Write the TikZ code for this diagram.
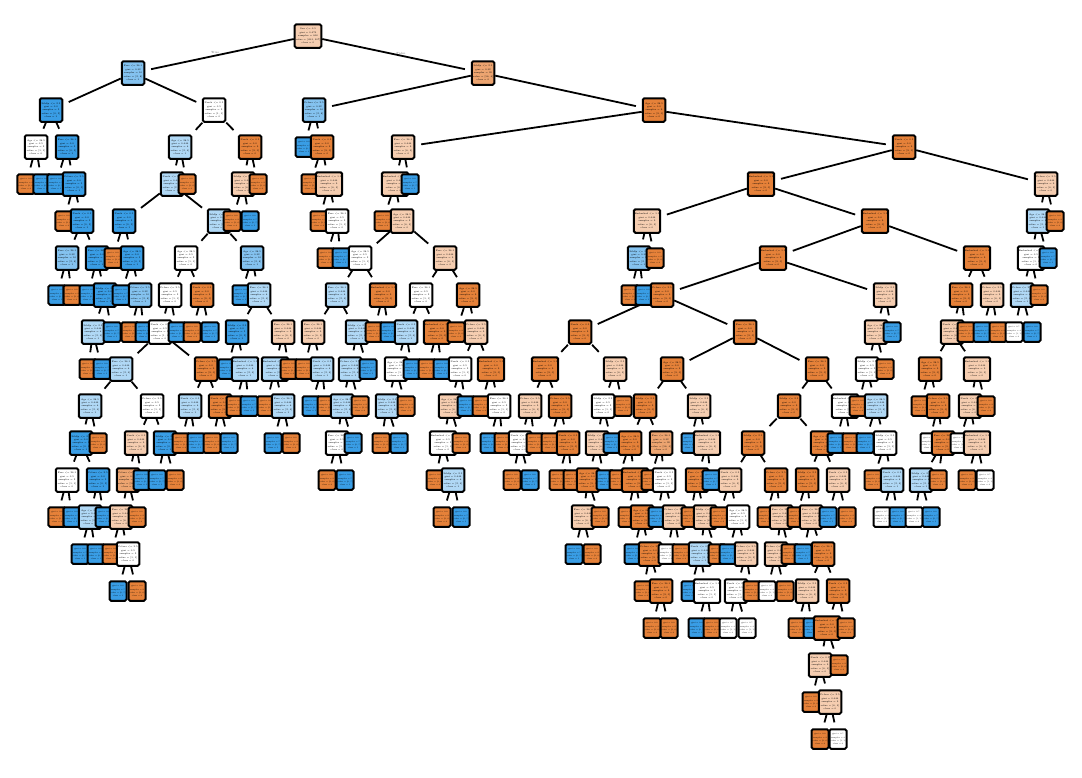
\documentclass[tikz,border=0pt]{standalone}
\usepackage{tikz}
\usetikzlibrary{backgrounds}
\usepackage{xcolor}
\definecolor{TreeOrange}{HTML}{e58139}
\definecolor{TreeBlue}{HTML}{399de5}
\colorlet{orA}{TreeOrange}
\colorlet{orB}{TreeOrange!72}
\colorlet{orC}{TreeOrange!40}
\colorlet{wh}{white}
\colorlet{blC}{TreeBlue!40}
\colorlet{blB}{TreeBlue!62}
\colorlet{blA}{TreeBlue}

\newcommand{\infoorA}{gini = 0.0\\samples = 9\\value = [9, 0]\\class = 0}
\newcommand{\infoorB}{gini = 0.32\\samples = 20\\value = [16, 4]\\class = 0}
\newcommand{\infoorC}{gini = 0.444\\samples = 9\\value = [6, 3]\\class = 0}
\newcommand{\infowh}{gini = 0.5\\samples = 2\\value = [1, 1]\\class = 0}
\newcommand{\infoblC}{gini = 0.444\\samples = 6\\value = [2, 4]\\class = 1}
\newcommand{\infoblB}{gini = 0.32\\samples = 10\\value = [2, 8]\\class = 1}
\newcommand{\infoblA}{gini = 0.0\\samples = 5\\value = [0, 5]\\class = 1}
\newcommand{\splitlabel}[2]{\pgfmathtruncatemacro\featno{mod(#2,6)}%
  \ifcase\featno Age <= 28.5\or Fare <= 26.1\or Pclass <= 2.5\or SibSp <= 2.5\or Parch <= 0.5\else Embarked <= 1.5\fi
  \\\csname info#1\endcsname}
\newcommand{\leaflabel}[2]{\csname info#1\endcsname}

\tikzset{
  treebox/.style={draw, line width=2pt, rounded corners=1.5pt, align=center,
    inner sep=0.8pt, font=\fontsize{2.3}{3.4}\selectfont},
  split/.style={treebox, minimum width=22.5pt, minimum height=23.5pt},
  leaf/.style={treebox, minimum width=14.5pt, minimum height=19.5pt,
    font=\fontsize{1.9}{3.2}\selectfont},
  link/.style={line width=1.8pt, shorten >=6pt},
  edgelabel/.style={font=\fontsize{3}{3.5}\selectfont, text=black!60}
}

\begin{document}
\begin{tikzpicture}[x=1pt,y=-1pt]
   \useasboundingbox (0,0) rectangle (1082,777);
   \node[split, fill=orC] (n0-308) at (308,36)
     {Sex <= 0.5\\gini = 0.473\\samples = 800\\value = [493, 307]\\class = 0};
   \foreach \lvl/\x/\tint/\kind in {
     1/133/blB/split, 1/483/orB/split,
     2/51/blA/split, 2/214/wh/split, 2/314/blB/split, 2/654/orA/split,
     3/36/wh/split, 3/67/blA/split, 3/180/blC/split, 3/250/orA/split, 3/304/blA/leaf,
     3/322/orA/split, 3/403/orC/split, 3/904/orA/split,
     4/26/orA/leaf, 4/42/blA/leaf, 4/56/blA/leaf, 4/74/blA/split, 4/172/blC/split,
     4/187/orA/leaf, 4/243/orC/split, 4/258/orA/leaf, 4/310/orA/leaf, 4/329/orC/split,
     4/395/orC/split, 4/410/blA/leaf, 4/761/orA/split, 4/1046/orC/split,
     5/64/orA/leaf, 5/82/blA/split, 5/124/blA/split, 5/219/blC/split, 5/232/orA/leaf,
     5/250/blA/leaf, 5/319/orA/leaf, 5/337/wh/split, 5/383/orA/leaf, 5/402/orC/split,
     5/647/orC/split, 5/875/orA/split, 5/1038/blC/split, 5/1055/orA/leaf,
     6/67/blB/split, 6/97/blA/split, 6/113/orA/leaf, 6/132/blA/split, 6/186/wh/split,
     6/252/blB/split, 6/326/orA/leaf, 6/341/blA/leaf, 6/360/wh/split, 6/445/orC/split,
     6/639/blB/split, 6/655/orA/leaf, 6/773/orA/split, 6/977/orA/split, 6/1031/wh/split,
     6/1048/blA/leaf,
     7/57/blA/leaf, 7/72/orA/leaf, 7/88/blA/leaf, 7/105/blA/split, 7/121/blA/leaf,
     7/140/blB/split, 7/170/wh/split, 7/202/orA/split, 7/241/blA/leaf, 7/259/blC/split,
     7/337/blC/split, 7/383/orA/split, 7/421/wh/split, 7/468/orA/split, 7/630/orA/leaf,
     7/644/blA/leaf, 7/662/orA/split, 7/885/orC/split, 7/961/orA/split, 7/992/orC/split,
     7/1022/blC/split, 7/1039/orA/leaf,
     8/93/blC/split, 8/112/blA/leaf, 8/130/orA/leaf, 8/144/blA/leaf, 8/160/wh/split,
     8/177/blA/leaf, 8/192/orA/leaf, 8/210/blA/leaf, 8/237/blA/split, 8/283/orC/split,
     8/313/orC/split, 8/357/blC/split, 8/374/orA/leaf, 8/389/blA/leaf, 8/406/blC/split,
     8/437/orA/split, 8/456/orA/leaf, 8/476/orC/split, 8/580/orA/split, 8/745/orA/split,
     8/876/orC/split, 8/892/blA/leaf, 8/952/orC/split, 8/966/orA/leaf, 8/982/blA/leaf,
     8/998/orA/leaf, 8/1014/wh/leaf, 8/1032/blA/leaf,
     9/88/orA/leaf, 9/102/blA/leaf, 9/121/blC/split, 9/206/orA/split, 9/227/blA/leaf,
     9/245/blC/split, 9/275/blC/split, 9/289/orA/leaf, 9/304/orA/leaf, 9/322/blC/split,
     9/350/blC/split, 9/368/blA/leaf, 9/396/wh/split, 9/412/blA/leaf, 9/427/orA/leaf,
     9/442/blA/leaf, 9/460/wh/split, 9/491/orA/split, 9/545/orA/split, 9/615/orC/split,
     9/672/orA/split, 9/817/orA/split, 9/867/wh/split, 9/885/orA/leaf, 9/930/orA/split,
     9/977/orC/split,
     10/90/blC/split, 10/152/wh/split, 10/190/blC/split, 10/220/orA/split, 10/235/orA/leaf,
     10/249/blA/leaf, 10/266/orA/leaf, 10/283/blC/split, 10/311/blA/leaf, 10/326/orA/leaf,
     10/342/blC/split, 10/360/orA/leaf, 10/387/blC/split, 10/406/orA/leaf, 10/450/orC/split,
     10/466/blA/leaf, 10/481/orA/leaf, 10/499/wh/split, 10/530/orC/split, 10/560/orA/split,
     10/603/wh/split, 10/623/orA/leaf, 10/645/orA/split, 10/699/orC/split, 10/789/orA/split,
     10/845/wh/split, 10/858/orA/leaf, 10/876/blC/split, 10/920/orA/leaf, 10/938/orA/split,
     10/970/orC/split, 10/986/orA/leaf,
     11/81/blA/split, 11/98/orA/leaf, 11/136/orC/split, 11/165/blA/split, 11/181/orA/leaf,
     11/196/blA/leaf, 11/212/orA/leaf, 11/229/blA/leaf, 11/273/blA/leaf, 11/291/orA/leaf,
     11/337/wh/split, 11/353/blA/leaf, 11/381/orA/leaf, 11/399/blA/leaf, 11/443/wh/split,
     11/461/orA/leaf, 11/489/blA/leaf, 11/503/orA/leaf, 11/520/wh/split, 11/535/orA/leaf,
     11/550/orA/leaf, 11/568/orA/split, 11/597/orC/split, 11/612/blA/leaf, 11/630/orA/split,
     11/661/orB/split, 11/690/blA/leaf, 11/707/orC/split, 11/753/orA/split, 11/822/orA/split,
     11/836/blA/leaf, 11/851/orA/leaf, 11/865/blA/leaf, 11/885/wh/split, 11/929/wh/leaf,
     11/943/orA/split, 11/959/wh/leaf, 11/977/orC/split,
     12/67/wh/split, 12/98/blA/split, 12/128/orB/split, 12/142/blA/leaf, 12/157/blA/leaf,
     12/175/orA/leaf, 12/327/orA/leaf, 12/345/blA/leaf, 12/435/orA/leaf, 12/453/blC/split,
     12/512/orA/leaf, 12/530/blA/leaf, 12/558/orA/leaf, 12/572/orA/leaf, 12/588/orA/split,
     12/605/blA/leaf, 12/618/orA/leaf, 12/635/orA/split, 12/650/orA/leaf, 12/664/wh/split,
     12/697/orA/split, 12/711/blA/leaf, 12/730/orC/split, 12/776/orA/split, 12/807/orA/split,
     12/838/orC/split, 12/873/orA/leaf, 12/892/blC/split, 12/921/blC/split, 12/938/orA/leaf,
     12/967/orA/leaf, 12/985/wh/leaf,
     13/57/orA/leaf, 13/72/blA/leaf, 13/90/blC/split, 13/104/blA/leaf, 13/121/orC/split,
     13/137/orA/leaf, 13/442/orA/leaf, 13/461/blA/leaf, 13/583/orC/split, 13/600/orA/leaf,
     13/627/orA/leaf, 13/642/orA/split, 13/657/blA/leaf, 13/674/orC/split, 13/690/orA/leaf,
     13/705/orC/split, 13/719/orA/leaf, 13/738/wh/split, 13/766/orA/leaf, 13/781/orC/split,
     13/796/orA/leaf, 13/811/orC/split, 13/828/blA/leaf, 13/847/orA/leaf, 13/882/wh/leaf,
     13/898/blA/leaf, 13/914/wh/leaf, 13/931/blA/leaf,
     14/80/blA/leaf, 14/96/blA/leaf, 14/111/orA/leaf, 14/128/wh/split, 14/574/blA/leaf,
     14/592/orA/leaf, 14/633/blA/leaf, 14/650/orA/split, 14/667/wh/leaf, 14/681/orA/leaf,
     14/700/blC/split, 14/717/orA/leaf, 14/728/blA/leaf, 14/746/orC/split, 14/776/orC/split,
     14/790/orA/leaf, 14/803/blA/leaf, 14/823/orA/split,
     15/118/blA/leaf, 15/137/orA/leaf, 15/643/orA/leaf, 15/661/orA/split, 15/690/blA/leaf,
     15/707/wh/split, 15/736/wh/split, 15/752/orA/leaf, 15/767/wh/leaf, 15/785/orA/leaf,
     15/807/orC/split, 15/838/orA/split,
     16/652/orA/leaf, 16/669/orA/leaf, 16/697/blA/leaf, 16/712/orA/leaf, 16/728/wh/leaf,
     16/747/wh/leaf, 16/797/orA/leaf, 16/812/blA/leaf, 16/827/orA/split, 16/846/orA/leaf,
     17/820/orC/split, 17/839/orA/leaf,
     18/811/orA/leaf, 18/830/orC/split,
     19/820/orA/leaf, 19/838/wh/leaf} {
    \node[\kind, fill=\tint] (n\lvl-\x) at (\x,{36+37*\lvl})
      {\csname\kind label\endcsname{\tint}{\x}};
   }
   \node[edgelabel] (lblTrue) at (215,53) {True};
   \node[edgelabel] (lblFalse) at (401,53) {False};

   % parent / left child / right child
   \begin{scope}[on background layer]
   \foreach \p/\a/\b in {
     0-308/1-133/1-483, 1-133/2-51/2-214, 1-483/2-314/2-654,
     2-51/3-36/3-67, 2-214/3-180/3-250, 2-314/3-304/3-322, 2-654/3-403/3-904,
     3-36/4-26/4-42, 3-67/4-56/4-74, 3-180/4-172/4-187, 3-250/4-243/4-258,
     3-322/4-310/4-329, 3-403/4-395/4-410, 3-904/4-761/4-1046,
     4-74/5-64/5-82, 4-172/5-124/5-219, 4-243/5-232/5-250, 4-329/5-319/5-337,
     4-395/5-383/5-402, 4-761/5-647/5-875, 4-1046/5-1038/5-1055,
     5-82/6-67/6-97, 5-124/6-113/6-132, 5-219/6-186/6-252, 5-337/6-326/6-341,
     5-402/6-360/6-445, 5-647/6-639/6-655, 5-875/6-773/6-977, 5-1038/6-1031/6-1048,
     6-67/7-57/7-72, 6-97/7-88/7-105, 6-132/7-121/7-140, 6-186/7-170/7-202,
     6-252/7-241/7-259, 6-360/7-337/7-383, 6-445/7-421/7-468, 6-639/7-630/7-644,
     6-773/7-662/7-885, 6-977/7-961/7-992, 6-1031/7-1022/7-1039,
     7-105/8-93/8-112, 7-140/8-130/8-144, 7-170/8-160/8-177, 7-202/8-192/8-210,
     7-259/8-237/8-283, 7-337/8-313/8-357, 7-383/8-374/8-389, 7-421/8-406/8-437,
     7-468/8-456/8-476, 7-662/8-580/8-745, 7-885/8-876/8-892, 7-961/8-952/8-966,
     7-992/8-982/8-998, 7-1022/8-1014/8-1032,
     8-93/9-88/9-102, 8-160/9-121/9-206, 8-237/9-227/9-245, 8-283/9-275/9-289,
     8-313/9-304/9-322, 8-357/9-350/9-368, 8-406/9-396/9-412, 8-437/9-427/9-442,
     8-476/9-460/9-491, 8-580/9-545/9-615, 8-745/9-672/9-817, 8-876/9-867/9-885,
     8-952/9-930/9-977,
     9-121/10-90/10-152, 9-206/10-190/10-220, 9-245/10-235/10-249, 9-275/10-266/10-283,
     9-322/10-311/10-326, 9-350/10-342/10-360, 9-396/10-387/10-406, 9-460/10-450/10-466,
     9-491/10-481/10-499, 9-545/10-530/10-560, 9-615/10-603/10-623, 9-672/10-645/10-699,
     9-817/10-789/10-845, 9-867/10-858/10-876, 9-930/10-920/10-938, 9-977/10-970/10-986,
     10-90/11-81/11-98, 10-152/11-136/11-165, 10-190/11-181/11-196, 10-220/11-212/11-229,
     10-283/11-273/11-291, 10-342/11-337/11-353, 10-387/11-381/11-399, 10-450/11-443/11-461,
     10-499/11-489/11-503, 10-530/11-520/11-535, 10-560/11-550/11-568, 10-603/11-597/11-612,
     10-645/11-630/11-661, 10-699/11-690/11-707, 10-789/11-753/11-822, 10-845/11-836/11-851,
     10-876/11-865/11-885, 10-938/11-929/11-943, 10-970/11-959/11-977,
     11-81/12-67/12-98, 11-136/12-128/12-142, 11-165/12-157/12-175, 11-337/12-327/12-345,
     11-443/12-435/12-453, 11-520/12-512/12-530, 11-568/12-558/12-572, 11-597/12-588/12-605,
     11-630/12-618/12-635, 11-661/12-650/12-664, 11-707/12-697/12-711, 11-753/12-730/12-776,
     11-822/12-807/12-838, 11-885/12-873/12-892, 11-943/12-921/12-938, 11-977/12-967/12-985,
     12-67/13-57/13-72, 12-98/13-90/13-104, 12-128/13-121/13-137, 12-453/13-442/13-461,
     12-588/13-583/13-600, 12-635/13-627/13-642, 12-664/13-657/13-674, 12-697/13-690/13-705,
     12-730/13-719/13-738, 12-776/13-766/13-781, 12-807/13-796/13-811, 12-838/13-828/13-847,
     12-892/13-882/13-898, 12-921/13-914/13-931,
     13-90/14-80/14-96, 13-121/14-111/14-128, 13-583/14-574/14-592, 13-642/14-633/14-650,
     13-674/14-667/14-681, 13-705/14-700/14-717, 13-738/14-728/14-746, 13-781/14-776/14-790,
     13-811/14-803/14-823,
     14-128/15-118/15-137, 14-650/15-643/15-661, 14-700/15-690/15-707, 14-746/15-736/15-752,
     14-776/15-767/15-785, 14-823/15-807/15-838,
     15-661/16-652/16-669, 15-707/16-697/16-712, 15-736/16-728/16-747, 15-807/16-797/16-812,
     15-838/16-827/16-846,
     16-827/17-820/17-839, 17-820/18-811/18-830, 18-830/19-820/19-838} {
    \draw[link] (n\p) -- (n\a);
    \draw[link] (n\p) -- (n\b);
   }
   \end{scope}
\end{tikzpicture}
\end{document}
